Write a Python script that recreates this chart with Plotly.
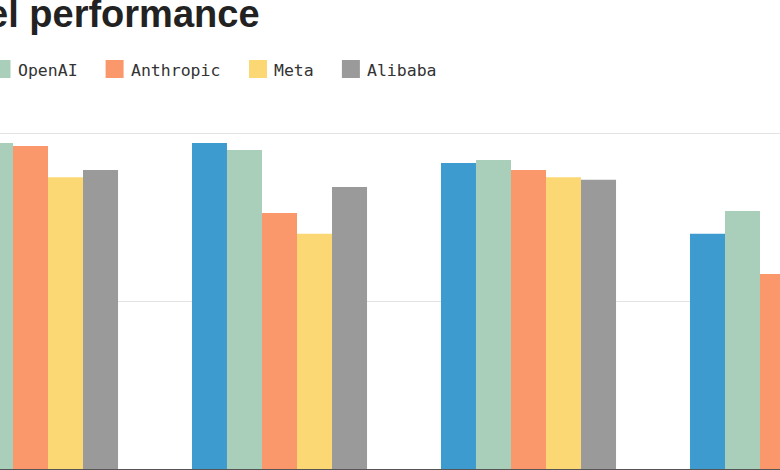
import plotly.graph_objects as go

# ---- data ----
categories = ["Benchmark 1", "Benchmark 2", "Benchmark 3", "Benchmark 4"]
series_names = ["Google", "OpenAI", "Anthropic", "Meta", "Alibaba"]
google = [None, 97.2, 91.2, 70.1]
openai = [97.2, 95.1, 92.1, 76.9]
anthropic = [96.3, 76.3, 89.1, 58.1]
meta = [87.0, 70.1, 87.0, None]
alibaba = [89.1, 84.1, 86.2, None]
series_values = [google, openai, anthropic, meta, alibaba]
colors = ["#3d9bd0", "#a9cfbb", "#fa986b", "#fbd874", "#9a9a9a"]
title_text = "Model performance"

W, H = 780, 470
M_T, M_B = 100, 1
PLOT_H = H - M_T - M_B


def px_x(x):
    return x / W


def px_y(y):
    return (H - M_B - y) / PLOT_H


fig = go.Figure()
for name, vals, col in zip(series_names, series_values, colors):
    fig.add_trace(go.Bar(
        x=categories, y=vals, name=name,
        marker=dict(color=col, line=dict(width=0)),
        showlegend=False,
    ))

# ---- manual legend ----
shapes = []
annotations = []
cw = 10.1
sw = 18
txt_off = 23
gap = 29.5
x = -7.5 - (txt_off + len(series_names[0]) * cw + gap)
for name, col in zip(series_names, colors):
    shapes.append(dict(type="rect", xref="paper", yref="paper",
                       x0=px_x(x), x1=px_x(x + sw),
                       y0=px_y(60), y1=px_y(78),
                       fillcolor=col, line=dict(width=0), layer="above"))
    annotations.append(dict(xref="paper", yref="paper", x=px_x(x + txt_off), y=px_y(70.5),
                            xanchor="left", yanchor="middle", showarrow=False,
                            text=name,
                            font=dict(family="DejaVu Sans Mono", size=16.5, color="#333333")))
    x = x + txt_off + len(name) * cw + gap

annotations.append(dict(xref="paper", yref="paper", x=px_x(262), y=px_y(14),
                        xanchor="right", yanchor="middle", showarrow=False,
                        text=title_text,
                        font=dict(family="Liberation Sans", size=38, color="#222222", weight=700)))

fig.update_layout(
    width=W, height=H,
    margin=dict(l=0, r=0, t=M_T, b=M_B),
    paper_bgcolor="white", plot_bgcolor="white",
    barmode="group", bargap=0.297, bargroupgap=0,
    shapes=shapes, annotations=annotations,
    showlegend=False,
    xaxis=dict(type="category", range=[-0.1225, 3.01], showticklabels=False,
               showgrid=False, zeroline=False, showline=True, linecolor="#555555",
               linewidth=2, ticks=""),
    yaxis=dict(range=[0, 110], tickvals=[0, 50, 100], showticklabels=False,
               showgrid=True, gridcolor="#e3e3e3", gridwidth=1, zeroline=False,
               showline=False, ticks=""),
)

fig.write_html("out.html")
